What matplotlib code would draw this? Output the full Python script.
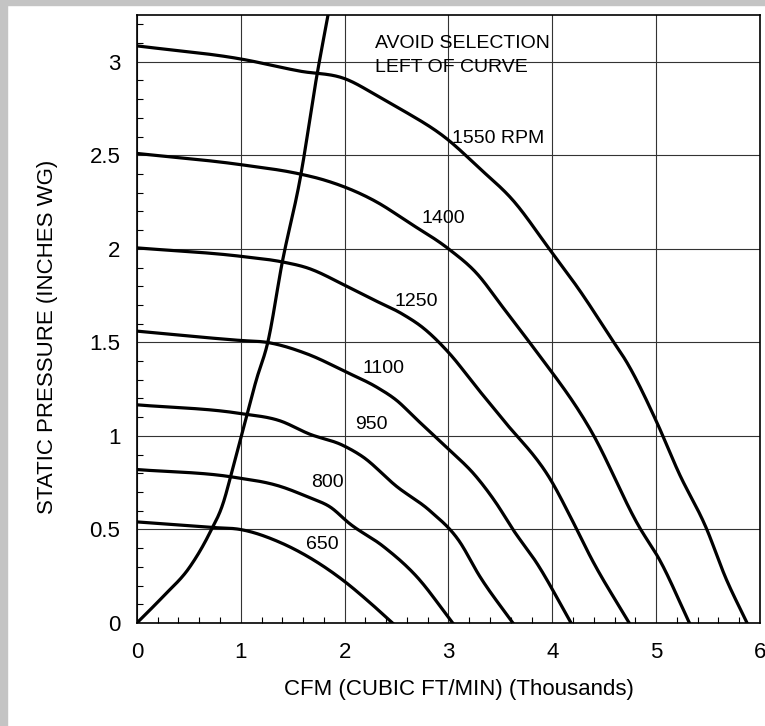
import matplotlib
matplotlib.use("Agg")
import matplotlib.pyplot as plt
import numpy as np
from matplotlib.ticker import MultipleLocator
from matplotlib.patches import Rectangle

plt.rcParams['font.family'] = ['Liberation Sans', 'DejaVu Sans']

# fan curves: CFM (thousands) vs static pressure (in. WG)
cfm_1550 = [0, 1.0, 1.57, 2.0, 2.34, 2.53, 2.98, 3.30, 3.62, 3.97, 4.26, 4.58, 4.71, 5.0, 5.22, 5.48, 5.67, 5.875]
sp_1550 = [3.085, 3.015, 2.95, 2.91, 2.81, 2.75, 2.59, 2.43, 2.26, 2.0, 1.78, 1.51, 1.40, 1.08, 0.80, 0.51, 0.24, 0]

cfm_1400 = [0, 1.0, 1.57, 1.79, 2.31, 2.62, 3.0, 3.27, 3.52, 3.78, 4.38, 4.84, 5.03, 5.32]
sp_1400 = [2.51, 2.45, 2.40, 2.37, 2.25, 2.14, 2.0, 1.87, 1.69, 1.50, 1.02, 0.51, 0.34, 0]

cfm_1250 = [0, 1.0, 1.40, 1.63, 2.02, 2.27, 2.56, 2.75, 3.01, 3.27, 3.52, 4.0, 4.19, 4.38, 4.74]
sp_1250 = [2.005, 1.96, 1.93, 1.90, 1.80, 1.73, 1.65, 1.58, 1.44, 1.26, 1.09, 0.75, 0.55, 0.34, 0]

cfm_1100 = [0, 1.0, 1.25, 1.63, 2.02, 2.31, 2.5, 2.69, 2.98, 3.27, 3.46, 3.62, 3.85, 4.18]
sp_1100 = [1.56, 1.51, 1.50, 1.44, 1.34, 1.26, 1.19, 1.09, 0.94, 0.78, 0.64, 0.50, 0.32, 0]

cfm_950 = [0, 0.99, 1.38, 1.66, 1.98, 2.17, 2.5, 2.82, 3.1, 3.3, 3.62]
sp_950 = [1.166, 1.12, 1.08, 1.01, 0.95, 0.89, 0.73, 0.60, 0.44, 0.25, 0]

cfm_800 = [0, 0.92, 1.38, 1.66, 1.86, 2.05, 2.37, 2.69, 3.04]
sp_800 = [0.82, 0.78, 0.73, 0.67, 0.62, 0.53, 0.41, 0.25, 0]

cfm_650 = [0, 0.73, 0.99, 1.38, 1.66, 1.98, 2.24, 2.46]
sp_650 = [0.54, 0.51, 0.50, 0.43, 0.35, 0.23, 0.11, 0]

# "avoid selection" limit curve
cfm_limit = [0, 0.25, 0.51, 0.70, 0.83, 0.92, 1.02, 1.15, 1.26, 1.40, 1.57, 1.74, 1.84]
sp_limit = [0, 0.14, 0.30, 0.48, 0.64, 0.82, 1.03, 1.30, 1.50, 1.93, 2.37, 2.95, 3.25]

curves = [(cfm_1550, sp_1550), (cfm_1400, sp_1400), (cfm_1250, sp_1250),
          (cfm_1100, sp_1100), (cfm_950, sp_950), (cfm_800, sp_800), (cfm_650, sp_650),
          (cfm_limit, sp_limit)]

labels = ['1550 RPM', '1400', '1250', '1100', '950', '800', '650']
label_x = [3.03, 2.74, 2.48, 2.17, 2.10, 1.68, 1.63]
label_y = [2.59, 2.16, 1.72, 1.36, 1.06, 0.75, 0.42]


def smooth(x, y, n=30):
    # cubic hermite through the read points (3-point slopes), only for drawing
    x = np.asarray(x, float)
    y = np.asarray(y, float)
    h = np.diff(x)
    d = np.diff(y) / h
    m = np.empty_like(x)
    m[0], m[-1] = d[0], d[-1]
    m[1:-1] = (h[1:] * d[:-1] + h[:-1] * d[1:]) / (h[:-1] + h[1:])
    xs, ys = [], []
    for k in range(len(h)):
        t = np.linspace(0, 1, n, endpoint=False)
        h00 = 2 * t**3 - 3 * t**2 + 1
        h10 = t**3 - 2 * t**2 + t
        h01 = -2 * t**3 + 3 * t**2
        h11 = t**3 - t**2
        xs.append(x[k] + t * h[k])
        ys.append(h00 * y[k] + h10 * h[k] * m[k] + h01 * y[k + 1] + h11 * h[k] * m[k + 1])
    xs.append([x[-1]])
    ys.append([y[-1]])
    return np.concatenate(xs), np.concatenate(ys)


fig = plt.figure(figsize=(7.65, 7.26), dpi=100)
ax = fig.add_axes([0.179, 0.142, 0.8145, 0.8373])

# scanned page edge
fig.patches.append(Rectangle((0, 0), 7 / 765, 1, transform=fig.transFigure,
                             color='#c4c4c4', zorder=0))
fig.patches.append(Rectangle((0, 1 - 5 / 726), 1, 5 / 726, transform=fig.transFigure,
                             color='#c4c4c4', zorder=0))

for xs, ys in curves:
    sx, sy = smooth(xs, ys)
    ax.plot(sx, sy, color='black', lw=2.3, zorder=3)

for t, lx, ly in zip(labels, label_x, label_y):
    ax.text(lx, ly, t, fontsize=14, va='center', ha='left', zorder=4)

ax.text(2.29, 3.10, 'AVOID SELECTION', fontsize=14, va='center', ha='left', zorder=4)
ax.text(2.29, 2.97, 'LEFT OF CURVE', fontsize=14, va='center', ha='left', zorder=4)

ax.set_xlim(0, 6)
ax.set_ylim(0, 3.25)
ax.xaxis.set_major_locator(MultipleLocator(1))
ax.xaxis.set_minor_locator(MultipleLocator(0.2))
ax.yaxis.set_minor_locator(MultipleLocator(0.1))
ax.set_yticks([0, 0.5, 1, 1.5, 2, 2.5, 3])
ax.set_yticklabels(['0', '0.5', '1', '1.5', '2', '2.5', '3'])
ax.grid(True, which='major', color='#333333', lw=0.8, zorder=1)
ax.tick_params(which='both', direction='in', labelsize=16)
ax.tick_params(which='major', length=0, pad=12)
ax.tick_params(which='minor', length=4, width=0.8)
ax.tick_params(axis='x', which='major', pad=14)
for s in ax.spines.values():
    s.set_linewidth(1.2)

ax.set_xlabel('CFM (CUBIC FT/MIN) (Thousands)', fontsize=16)
ax.set_ylabel('STATIC PRESSURE (INCHES WG)', fontsize=16)
ax.xaxis.set_label_coords(0.517, -0.110)
ax.yaxis.set_label_coords(-0.143, 0.47)
ax.xaxis.label.set_va('center')
ax.yaxis.label.set_va('center')

fig.savefig('out.png', dpi=100)
